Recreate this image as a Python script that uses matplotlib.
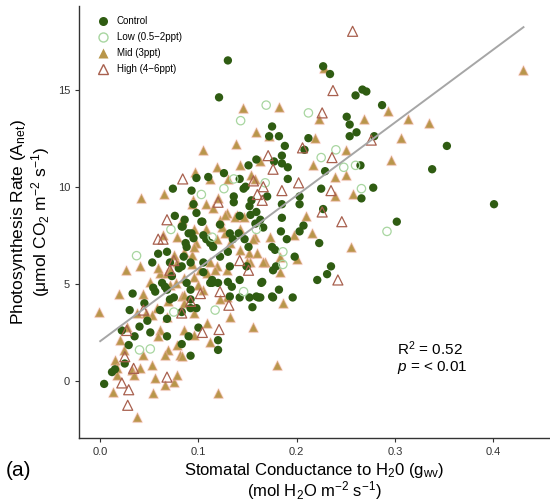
import numpy as np
import matplotlib
matplotlib.use("Agg")
import matplotlib.pyplot as plt
from matplotlib.lines import Line2D

plt.rcParams['font.family'] = ['Liberation Sans', 'DejaVu Sans']
plt.rcParams['mathtext.fontset'] = 'custom'
plt.rcParams['mathtext.rm'] = 'Liberation Sans'
plt.rcParams['mathtext.it'] = 'Liberation Sans:italic'

# stomatal conductance (x) and photosynthesis rate (y)
control_x = [0.130, 0.121, 0.227, 0.234, 0.267, 0.271, 0.260, 0.287, 0.251, 0.254, 0.261, 0.254, 0.279,
             0.353, 0.338, 0.401, 0.302, 0.266, 0.278, 0.265, 0.212, 0.208, 0.229, 0.225, 0.203, 0.203,
             0.227, 0.185, 0.184, 0.203, 0.207, 0.190, 0.223, 0.182, 0.188, 0.185, 0.185, 0.191, 0.191,
             0.185, 0.175, 0.172, 0.159, 0.151, 0.177, 0.126, 0.098, 0.110, 0.074, 0.093, 0.142, 0.146,
             0.136, 0.154, 0.170, 0.148, 0.159, 0.095, 0.076, 0.086, 0.098, 0.104, 0.136, 0.152, 0.166,
             0.083, 0.093, 0.142, 0.163, 0.135, 0.108, 0.115, 0.088, 0.151, 0.158, 0.059, 0.053, 0.068,
             0.087, 0.095, 0.105, 0.112, 0.122, 0.141, 0.147, 0.175, 0.178, 0.198, 0.179, 0.165, 0.142,
             0.134, 0.152, 0.161, 0.176, 0.155, 0.142, 0.132, 0.120, 0.114, 0.105, 0.092, 0.098, 0.092,
             0.083, 0.075, 0.066, 0.054, 0.100, 0.090, 0.120, 0.092, 0.068, 0.083, 0.085, 0.071, 0.235,
             0.231, 0.221, 0.132, 0.149, 0.176, 0.122, 0.105, 0.120, 0.004, 0.012, 0.025, 0.015, 0.022,
             0.030, 0.033, 0.029, 0.035, 0.040, 0.045, 0.048, 0.051, 0.056, 0.061, 0.063, 0.068, 0.068,
             0.073, 0.080, 0.083, 0.088, 0.092, 0.112, 0.164, 0.175, 0.159, 0.182, 0.196,
             0.084, 0.090, 0.103, 0.132, 0.153, 0.092, 0.130, 0.114, 0.130, 0.163, 0.071]
control_y = [16.5, 14.6, 16.2, 15.8, 15.0, 14.9, 14.7, 14.2, 13.6, 13.2, 12.8, 12.6, 12.6,
             12.1, 10.9, 9.1, 8.2, 9.4, 9.95, 11.1, 12.5, 11.9, 10.8, 9.9, 9.5, 9.1,
             8.85, 8.4, 7.7, 7.7, 8.0, 7.3, 7.1, 12.6, 12.1, 11.6, 11.2, 11.0, 10.4,
             9.1, 13.1, 12.6, 11.4, 11.1, 11.3, 10.7, 10.45, 10.5, 9.9, 9.8, 10.4, 9.9,
             9.5, 9.3, 9.5, 10.0, 8.7, 9.1, 8.5, 8.3, 8.65, 8.2, 9.2, 9.0, 7.9,
             7.95, 7.6, 8.5, 8.3, 7.3, 7.3, 6.9, 6.9, 6.9, 8.1, 6.55, 6.1, 6.65,
             7.1, 7.35, 7.5, 7.1, 8.05, 7.6, 7.3, 6.9, 6.75, 6.4, 5.9, 5.1, 5.2,
             4.85, 4.3, 4.3, 4.3, 3.8, 4.3, 4.35, 5.05, 5.05, 5.6, 4.7, 3.75, 3.75,
             3.55, 4.3, 4.85, 4.8, 2.75, 2.3, 1.6, 1.3, 2.3, 5.9, 6.4, 6.1, 5.9,
             5.5, 5.2, 5.9, 5.9, 5.7, 6.4, 6.1, 2.1, -0.15, 0.46, 0.9, 0.6, 2.6,
             3.65, 4.5, 1.85, 2.3, 2.8, 4.0, 3.1, 2.5, 4.6, 3.65, 5.05, 4.7, 3.2,
             5.4, 5.8, 1.9, 5.05, 4.2, 5.05, 5.05, 4.35, 4.35, 4.7, 4.3,
             7.95, 7.6, 8.2, 7.6, 8.55, 6.1, 6.65, 5.2, 5.1, 4.3, 4.2]

low_x = [0.169, 0.143, 0.212, 0.240, 0.225, 0.248, 0.260, 0.266, 0.292, 0.103, 0.126, 0.136, 0.072,
         0.159, 0.168, 0.037, 0.040, 0.051, 0.075, 0.117, 0.146, 0.186, 0.186, 0.114]
low_y = [14.2, 13.4, 13.8, 11.9, 11.5, 11.0, 11.1, 9.9, 7.7, 9.6, 9.9, 10.4, 7.8,
         7.8, 10.2, 6.45, 1.6, 1.65, 3.55, 3.65, 4.6, 6.65, 6.0, 7.4]

mid_x = [0.431, 0.293, 0.313, 0.335, 0.306, 0.296, 0.269, 0.223, 0.182, 0.219, 0.250, 0.217, 0.239,
         0.250, 0.239, 0.257, 0.210, 0.216, 0.255, 0.228, 0.145, 0.159, 0.172, 0.138, 0.105, 0.119,
         0.142, 0.163, 0.097, 0.112, 0.130, 0.154, 0.158, 0.065, 0.042, 0.094, 0.120, 0.108, 0.115,
         0.129, 0.139, 0.122, 0.083, 0.095, 0.108, 0.078, 0.127, 0.142, 0.158, 0.119, 0.098, 0.064,
         0.124, 0.142, 0.151, 0.160, 0.168, 0.153, 0.173, 0.197, 0.183, 0.186, 0.156, 0.132, 0.129,
         0.119, 0.117, 0.112, 0.109, 0.085, 0.093, 0.078, 0.061, 0.071, 0.085, 0.095, 0.105, 0.083,
         0.069, 0.058, 0.053, 0.068, 0.085, 0.095, 0.109, 0.061, 0.085, 0.112, 0.095, 0.078, 0.059,
         0.069, 0.081, 0.066, -0.001, 0.019, 0.026, 0.041, 0.015, 0.017, 0.017, 0.013, 0.024, 0.020,
         0.027, 0.032, 0.034, 0.037, 0.041, 0.044, 0.047, 0.053, 0.054, 0.056, 0.066, 0.075, 0.078,
         0.083, 0.120, 0.180, 0.077, 0.068, 0.059, 0.075, 0.102, 0.051, 0.044, 0.037, 0.149, 0.166,
         0.122, 0.183, 0.200,
         0.093, 0.127, 0.137, 0.146, 0.095, 0.132, 0.156, 0.071, 0.093, 0.129, 0.100, 0.085]
mid_y = [16.0, 13.9, 13.5, 13.3, 12.5, 11.4, 13.5, 13.5, 14.1, 12.5, 11.9, 11.1, 10.5,
         10.6, 9.5, 9.6, 8.5, 7.6, 6.9, 16.1, 14.05, 12.8, 12.6, 12.2, 11.9, 11.0,
         11.1, 11.3, 10.75, 10.4, 10.4, 10.6, 10.4, 9.6, 9.4, 9.3, 9.4, 9.1, 8.9,
         8.65, 8.55, 8.3, 8.3, 7.8, 7.8, 7.4, 7.6, 7.8, 7.4, 7.3, 7.1, 7.5,
         7.95, 6.75, 6.6, 6.6, 6.15, 6.1, 7.4, 7.5, 5.6, 4.0, 2.8, 3.3, 4.3,
         5.9, 5.7, 6.1, 5.55, 6.65, 6.5, 6.1, 5.55, 4.95, 5.3, 5.35, 4.7, 4.35,
         4.1, 3.75, 3.4, 3.3, 4.0, 3.5, 3.0, 2.6, 2.6, 2.0, 2.35, 1.85, 2.3,
         1.6, 1.35, 1.35, 3.55, 4.5, 5.7, 5.9, 1.1, 0.65, 0.3, -0.55, 1.6, 2.1,
         2.8, 0.55, 0.3, -1.85, 0.65, 1.35, 3.5, 0.8, -0.6, 0.15, -0.2, -0.05, 0.3,
         1.3, -0.6, 0.8, 5.05, 5.55, 5.8, 6.5, 5.7, 5.1, 4.5, 3.5, 6.15, 6.15,
         4.2, 6.4, 6.3,
         9.1, 8.55, 8.45, 8.45, 6.9, 7.1, 7.3, 5.7, 6.0, 5.7, 4.95, 4.45]

high_x = [0.257, 0.237, 0.226, 0.276, 0.206, 0.236, 0.202, 0.185, 0.235, 0.226, 0.246, 0.242, 0.084,
          0.068, 0.059, 0.064, 0.160, 0.171, 0.176, 0.156, 0.166, 0.165, 0.120, 0.022, 0.029, 0.028,
          0.025, 0.034, 0.044, 0.068, 0.075, 0.083, 0.104, 0.102, 0.122, 0.121, 0.131, 0.142, 0.151,
          0.027, 0.071, 0.092]
high_y = [18.0, 14.95, 13.8, 12.4, 12.0, 11.5, 10.2, 9.8, 9.8, 8.7, 8.2, 5.2, 10.4,
          8.3, 7.3, 7.3, 9.6, 11.6, 10.9, 10.3, 10.0, 9.3, 9.2, -0.1, -0.45, -1.25,
          1.25, 0.65, 3.65, 0.2, 6.2, 3.5, 2.5, 4.5, 4.6, 2.65, 3.9, 6.2, 5.7,
          2.6, 5.7, 4.1]

fit_intercept = 2.05
fit_slope = 37.5
r2_text = "R$^2$ = 0.52"
p_text = "$p$ = < 0.01"

fig, ax = plt.subplots(figsize=(5.5, 5.03), dpi=100)
fig.subplots_adjust(left=0.144, right=1.0, top=0.988, bottom=0.129)

pink_edge = (1.0, 0.72, 0.72, 0.35)
ax.scatter(mid_x, mid_y, marker='^', s=48, c='#b8964a', edgecolors=[pink_edge], linewidths=1.2, zorder=2)
ax.scatter(control_x, control_y, marker='o', s=36, c='#2f5c12', edgecolors='none', zorder=3)
ax.scatter(low_x, low_y, marker='o', s=36, facecolors='none', edgecolors='#a8d6a0', linewidths=0.9, zorder=4)
ax.scatter(high_x, high_y, marker='^', s=52, facecolors='none', edgecolors='#a8604e', linewidths=0.9, zorder=4)

all_x = np.array(control_x + low_x + mid_x + high_x)
fx = np.array([0.0, all_x.max()])
ax.plot(fx, fit_intercept + fit_slope * fx, color='#a6a6a6', lw=1.4, zorder=5)

ax.set_xlim(-0.0214, 0.458)
ax.set_ylim(-2.94, 19.3)
ax.set_xticks([0.0, 0.1, 0.2, 0.3, 0.4])
ax.set_xticklabels(['0.0', '0.1', '0.2', '0.3', '0.4'])
ax.set_yticks([0, 5, 10, 15])
ax.tick_params(labelsize=8, length=3, color='#333333', labelcolor='#333333')
for side in ['top', 'right']:
    ax.spines[side].set_visible(False)
for side in ['left', 'bottom']:
    ax.spines[side].set_color('#333333')
    ax.spines[side].set_linewidth(1.0)

ax.set_xlabel("Stomatal Conductance to H$_2$0 (g$_{\\mathrm{wv}}$)\n(mol H$_2$O m$^{-2}$ s$^{-1}$)",
              fontsize=12, linespacing=0.95, labelpad=3)
ax.set_ylabel("Photosynthesis Rate (A$_{\\mathrm{net}}$)\n(\u03bcmol CO$_2$ m$^{-2}$ s$^{-1}$)",
              fontsize=12.5, linespacing=1.05, labelpad=4)

ax.text(0.675, 0.206, r2_text, transform=ax.transAxes, fontsize=11, va='center')
ax.text(0.675, 0.164, p_text, transform=ax.transAxes, fontsize=11, va='center')
fig.text(0.01, 0.065, "(a)", fontsize=15, va='center')

handles = [
    Line2D([], [], marker='o', ls='none', markersize=6.5, markerfacecolor='#2f5c12', markeredgecolor='none'),
    Line2D([], [], marker='o', ls='none', markersize=6.5, markerfacecolor='none', markeredgecolor='#a8d6a0'),
    Line2D([], [], marker='^', ls='none', markersize=7.5, markerfacecolor='#b8964a', markeredgecolor='none'),
    Line2D([], [], marker='^', ls='none', markersize=7.5, markerfacecolor='none', markeredgecolor='#a8604e'),
]
labels = ["Control", "Low (0.5\u22122ppt)", "Mid (3ppt)", "High (4\u22126ppt)"]
ax.legend(handles, labels, loc='upper left', bbox_to_anchor=(0.03, 0.985), frameon=False,
          fontsize=7, handletextpad=0.8, labelspacing=0.62, handlelength=1.2, borderaxespad=0)

fig.savefig("out.png", dpi=100)
